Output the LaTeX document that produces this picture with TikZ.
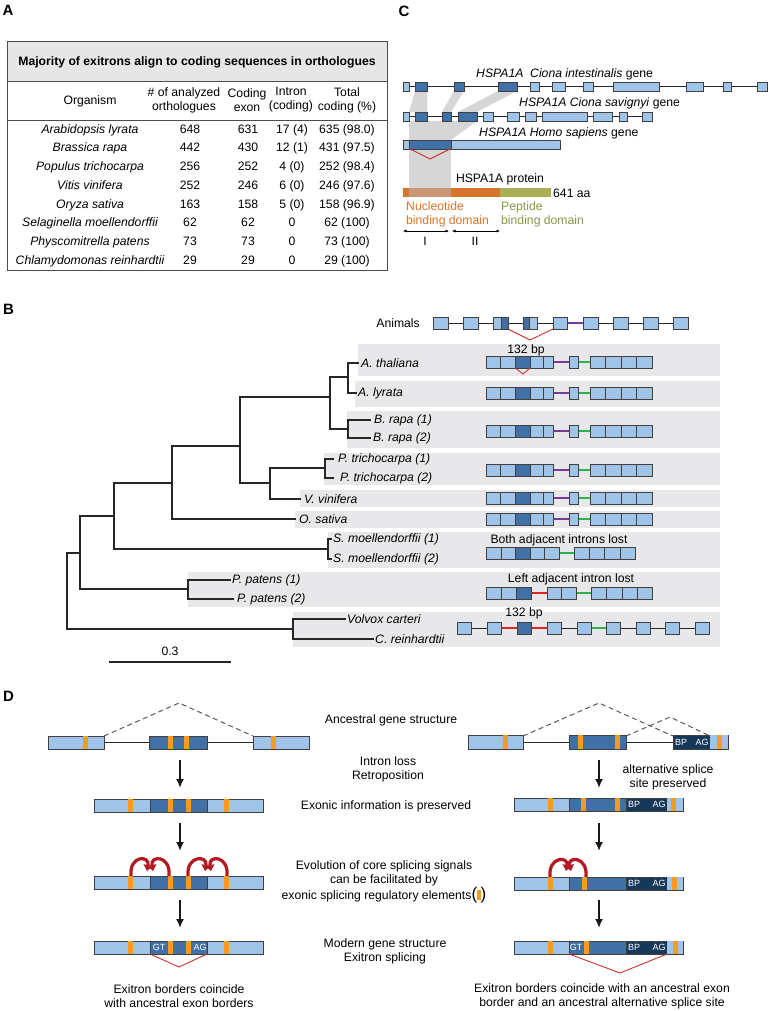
\documentclass[tikz,border=0pt]{standalone}
\usepackage{fontspec}
\setmainfont{Liberation Sans}
\usepackage{tikz}
\usetikzlibrary{arrows.meta,positioning}
\definecolor{exl}{RGB}{160,196,232}
\definecolor{exd}{RGB}{64,112,166}
\definecolor{exn}{RGB}{24,56,90}
\definecolor{esr}{RGB}{243,156,32}
\definecolor{bandgray}{RGB}{232,232,234}
\definecolor{hdrgray}{RGB}{230,230,230}
\definecolor{ipur}{RGB}{118,60,150}
\definecolor{igrn}{RGB}{40,178,80}
\definecolor{ired}{RGB}{226,36,36}
\definecolor{vred}{RGB}{200,50,45}
\definecolor{cred}{RGB}{178,26,32}
\definecolor{porange}{RGB}{214,116,44}
\definecolor{ptan}{RGB}{202,152,118}
\definecolor{polive}{RGB}{170,176,86}
\definecolor{tolive}{RGB}{138,150,70}
\definecolor{cgray}{RGB}{214,214,214}

\begin{document}
\begin{tikzpicture}[x=1pt, y=-1pt,
  font=\fontsize{12.2}{14}\selectfont,
  every node/.style={inner sep=0pt},
  lbl/.style={font=\fontsize{15}{15}\selectfont\bfseries},
  ex/.style={draw=black!75, line width=0.6pt, fill=exl},
  exd/.style={ex, fill=exd},
  exn/.style={ex, fill=exn},
  esr/.style={fill=esr},
  intr/.style={line width=0.7pt, black!85},
  pur/.style={line width=2.9pt, draw=ipur},
  grn/.style={line width=2.9pt, draw=igrn},
  rd/.style={line width=2.9pt, draw=ired},
  vee/.style={draw=vred, line width=0.9pt},
  tree/.style={line width=1.1pt, black!85, line cap=rect},
  band/.style={fill=bandgray},
  sp/.style={font=\fontsize{12.2}{14}\selectfont\itshape, anchor=west},
  darr/.style={-{Latex[length=9pt, width=8pt]}, line width=1.7pt, black!90},
  curl/.style={-{Triangle[length=6pt, width=9pt]}, line width=3.2pt, draw=cred},
  site/.style={font=\fontsize{9}{9}\selectfont, text=white},
  ancd/.style={dash pattern=on 5pt off 3.5pt, line width=1pt, black!65},
  dom/.style={{Latex[length=3.5pt, width=3pt]}-{Latex[length=3.5pt, width=3pt]}, line width=0.5pt}
]
\useasboundingbox (0,0) rectangle (768,1011);

\node[lbl] (la) at (8,10.5) {A};
\fill[hdrgray] (7,41) rectangle (387,81);
\draw[line width=0.8pt, black!70] (7,41) rectangle (387,270);
\draw[line width=0.7pt, black!70] (7,81) -- (387,81) (7,120) -- (387,120);
\node[font=\fontsize{12.2}{14}\selectfont\bfseries] (ttl) at (197,62) {Majority of exitrons align to coding sequences in orthologues};
\node (h1) at (90,101) {Organism};
\node[align=center] (h2) at (184,100) {\# of analyzed\\orthologues};
\node[align=center] (h3) at (247,100) {Coding\\exon};
\node[align=center] (h4) at (291,100) {Intron\\(coding)};
\node[align=center] (h5) at (347,100) {Total\\coding (\%)};
\foreach \org/\na/\ce/\ic/\tc [count=\i] in {
  Arabidopsis lyrata/648/631/17 (4)/635 (98.0),
  Brassica rapa/442/430/12 (1)/431 (97.5),
  Populus trichocarpa/256/252/4 (0)/252 (98.4),
  Vitis vinifera/252/246/6 (0)/246 (97.6),
  Oryza sativa/163/158/5 (0)/158 (96.9),
  Selaginella moellendorffii/62/62/0/62 (100),
  Physcomitrella patens/73/73/0/73 (100),
  Chlamydomonas reinhardtii/29/29/0/29 (100)}{
  \pgfmathsetmacro{\ry}{133.3+(\i-1)*18.7}
  \node[font=\fontsize{12.2}{14}\selectfont\itshape, anchor=base] (org\i) at (90,\ry) {\org};
  \node[anchor=base] (na\i) at (190,\ry) {\na};
  \node[anchor=base] (ce\i) at (248,\ry) {\ce};
  \node[anchor=base] (ic\i) at (292,\ry) {\ic};
  \node[anchor=base] (tc\i) at (347,\ry) {\tc};
}

\node[lbl] (lc) at (404,11) {C};
\fill[cgray] (415,91) -- (427,91) -- (427,112) -- (409,112) -- cycle;
\fill[cgray] (454,91) -- (464,91) -- (451,112) -- (442,112) -- cycle;
\fill[cgray] (498,91) -- (517,91) -- (477,112) -- (458,112) -- cycle;
\fill[cgray] (409,121) -- (477,121) -- (451,140) -- (409,140) -- cycle;
\fill[cgray] (409,149) -- (451,149) -- (451,188) -- (409,188) -- cycle;
\draw[intr] (403,86.5) -- (767,86.5);
\foreach \a/\b/\c in {403/409/exl,415/427/exd,454/464/exd,498/517/exd,530/539/exl,552/565/exl,583/593/exl,613/659/exl,686/703/exl,723/731/exl,757/767/exl}
  \draw[ex, fill=\c] (\a,82) rectangle (\b,91);
\draw[intr] (403,116.5) -- (652,116.5);
\foreach \a/\b/\c in {403/409/exl,415/427/exd,442/451/exd,458/477/exd,483/493/exl,507/519/exl,525/536/exl,542/587/exl,593/612/exl,619/627/exl,642/652/exl}
  \draw[ex, fill=\c] (\a,112) rectangle (\b,121);
\fill[exl] (403,140) rectangle (560,149);
\fill[exd] (409,140) rectangle (451,149);
\draw[ex, fill=none] (403,140) rectangle (560,149);
\draw[vee] (410,149) -- (430,159) -- (450,149);
\node[anchor=west] (g1) at (476,74) {\textit{HSPA1A\ \ Ciona intestinalis} gene};
\node[anchor=west] (g2) at (519,103) {\textit{HSPA1A Ciona savignyi} gene};
\node[anchor=west] (g3) at (479,133) {\textit{HSPA1A Homo sapiens} gene};
\fill[porange] (403,188) rectangle (409,197);
\fill[ptan] (409,188) rectangle (451,197);
\fill[porange] (451,188) rectangle (500,197);
\fill[polive] (500,188) rectangle (551,197);
\node (prot) at (500,179) {HSPA1A protein};
\node[anchor=west] (aa) at (553,193) {641 aa};
\node[anchor=west, align=left, text=porange] (nbd) at (406,214) {Nucleotide\\binding domain};
\node[anchor=west, align=left, text=tolive] (pbd) at (501,214) {Peptide\\binding domain};
\draw[dom] (403,231) -- (449,231);
\draw[dom] (452,231) -- (500,231);
\node (d1) at (425,241) {I};
\node (d2) at (475,241) {II};

\node[lbl] (lb) at (8.5,309) {B};
\fill[band] (358,344) rectangle (720,376);
\fill[band] (355,381) rectangle (720,407);
\fill[band] (347,411) rectangle (720,448);
\fill[band] (324,453) rectangle (720,485);
\fill[band] (300,490) rectangle (720,507);
\fill[band] (295,511) rectangle (720,528);
\fill[band] (328,532) rectangle (720,568);
\fill[band] (188,572) rectangle (720,607);
\fill[band] (293,612) rectangle (720,647);
\draw[tree] (358,363) -- (348,363) -- (348,393) -- (356,393);
\draw[tree] (370,420) -- (348,420) -- (348,438) -- (370,438);
\draw[tree] (348,377) -- (330,377) -- (330,429) -- (348,429);
\draw[tree] (330,397) -- (240,397) -- (240,483) -- (270,483);
\draw[tree] (333,459) -- (325,459) -- (325,478) -- (333,478);
\draw[tree] (325,468) -- (270,468) -- (270,499) -- (300,499);
\draw[tree] (240,446) -- (172,446) -- (172,519) -- (295,519);
\draw[tree] (172,483) -- (114,483) -- (114,549) -- (328,549);
\draw[tree] (331,539) -- (328,539) -- (328,559) -- (331,559);
\draw[tree] (114,516) -- (80,516) -- (80,589) -- (188,589);
\draw[tree] (230,580) -- (188,580) -- (188,599) -- (233,599);
\draw[tree] (80,553) -- (67,553) -- (67,629) -- (293,629);
\draw[tree] (345,619) -- (293,619) -- (293,639) -- (373,639);
\draw[tree] (110,662) -- (230,662);
\node (scl) at (170,651) {0.3};
\node[sp] (ath) at (361,363) {A. thaliana};
\node[sp] (aly) at (358,393) {A. lyrata};
\node[sp] (br1) at (374,420) {B. rapa (1)};
\node[sp] (br2) at (373,438) {B. rapa (2)};
\node[sp] (pt1) at (338,459) {P. trichocarpa (1)};
\node[sp] (pt2) at (340,478) {P. trichocarpa (2)};
\node[sp] (vvi) at (304,499) {V. vinifera};
\node[sp] (osa) at (299,519) {O. sativa};
\node[sp] (sm1) at (333,539) {S. moellendorffii (1)};
\node[sp] (sm2) at (333,559) {S. moellendorffii (2)};
\node[sp] (pp1) at (232,580) {P. patens (1)};
\node[sp] (pp2) at (237,599) {P. patens (2)};
\node[sp] (vca) at (347,619) {Volvox carteri};
\node[sp] (cre) at (375,639) {C. reinhardtii};

\node[anchor=east] (anim) at (420,323) {Animals};
\draw[intr] (448,323) -- (673,323);
\draw[pur] (567,323) -- (583,323);
\draw[vee] (508,329) -- (530,340) -- (553,329);
\foreach \a/\b in {433/448,463/478,493/508,529/537,553/567,583/598,613/628,643/658,673/688}
  \draw[ex] (\a,317) rectangle (\b,329);
\draw[exd] (501,317) rectangle (508,329);
\draw[exd] (523,317) rectangle (529,329);
\foreach \y in {362,393,431,470,498,519}{
  \draw[pur] (553,\y) -- (569,\y);
  \draw[grn] (578,\y) -- (590,\y);
  \foreach \a/\b in {486/500,500/515,530/543,543/553,569/578,590/605,605/621,621/636,636/652}
    \draw[ex] (\a,\y-6) rectangle (\b,\y+6);
  \draw[exd] (515,\y-6) rectangle (530,\y+6);
}
\node (bp1) at (526,350) {132 bp};
\draw[vee] (515,368) -- (523,374) -- (530,368);
\node (sml) at (559,540) {Both adjacent introns lost};
\draw[grn] (559,553) -- (574,553);
\foreach \a/\b in {486/501,501/515,530/544,544/559,574/589,589/604,604/620,620/635}
  \draw[ex] (\a,547) rectangle (\b,559);
\draw[exd] (515,547) rectangle (530,559);
\node (ppl) at (571,579) {Left adjacent intron lost};
\draw[rd] (531,593) -- (547,593);
\draw[grn] (576,593) -- (591,593);
\foreach \a/\b in {486/501,501/516,547/561,561/576,591/606,606/622,622/637,637/652}
  \draw[ex] (\a,587) rectangle (\b,599);
\draw[exd] (516,587) rectangle (531,599);
\node (bp2) at (524,613) {132 bp};
\draw[intr] (471,628) -- (695,628);
\draw[rd] (501,628) -- (517,628) (531,628) -- (547,628);
\draw[grn] (591,628) -- (606,628);
\foreach \a in {457,487,547,577,606,636,665,695}
  \draw[ex] (\a,622) rectangle (\a+14,634);
\draw[exd] (517,622) rectangle (531,634);

\node[lbl] (ld) at (8.5,696) {D};
\draw[ancd] (104,736) -- (179,703) -- (253,736);
\draw[intr] (104,742.5) -- (149,742.5) (207,742.5) -- (253,742.5);
\draw[ex] (48,736) rectangle (104,749);
\draw[exd] (149,736) rectangle (207,749);
\draw[ex] (253,736) rectangle (309,749);
\foreach \a in {83,168,184,271}
  \fill[esr] (\a,736.4) rectangle (\a+5,748.6);
\foreach \y in {799,876,941}{
  \draw[ex] (94,\y) rectangle (150,\y+13);
  \draw[exd] (150,\y) rectangle (207,\y+13);
  \draw[ex] (207,\y) rectangle (263,\y+13);
  \foreach \a in {128,168,186,224}
    \fill[esr] (\a,\y+0.4) rectangle (\a+4.5,\y+12.6);
}
\node[site] (gtl) at (159,947.5) {GT};
\node[site] (agl) at (200,947.5) {AG};
\draw[vee] (150,954) -- (179,967) -- (207,954);
\draw[curl] (131,876) .. controls (129,855) and (150,855) .. (147,871);
\draw[curl] (169,876) .. controls (171,855) and (150,855) .. (153,871);
\draw[curl] (188,876) .. controls (186,855) and (208,855) .. (205,871);
\draw[curl] (227,876) .. controls (229,855) and (208,855) .. (211,871);

\draw[ancd] (523,736) -- (599,703) -- (673,736);
\draw[ancd] (626,736) -- (670,717) -- (710,736);
\draw[intr] (523,742) -- (569,742) (626,742) -- (673,742);
\draw[ex] (468,735) rectangle (523,749);
\draw[exd] (569,735) rectangle (626,749);
\draw[exn] (673,735) rectangle (728,749);
\fill[exl] (710,735.3) rectangle (727.7,748.7);
\foreach \a in {503,578,615,717}
  \fill[esr] (\a,735.4) rectangle (\a+4.5,748.6);
\node[site] (bpr1) at (681,742) {BP};
\node[site] (agr1) at (702,742) {AG};
\foreach \y/\i in {798/2,877/3,941/4}{
  \draw[ex] (514,\y) rectangle (569,\y+13);
  \draw[exd] (569,\y) rectangle (626,\y+13);
  \draw[exn] (626,\y) rectangle (683,\y+13);
  \fill[exl] (667,\y+0.3) rectangle (682.7,\y+12.7);
  \node[site] (bpr\i) at (634,\y+6.5) {BP};
  \node[site] (agr\i) at (659,\y+6.5) {AG};
}
\foreach \a in {548,581,615,671}
  \fill[esr] (\a,798.4) rectangle (\a+4.5,810.6);
\foreach \a in {548,582,672}
  \fill[esr] (\a,877.4) rectangle (\a+4.5,889.6);
\foreach \a in {548,584,673}
  \fill[esr] (\a,941.4) rectangle (\a+4.5,953.6);
\node[site] (gtr) at (576,947.5) {GT};
\draw[vee] (569,954) -- (620,973) -- (667,954);
\draw[curl] (550,877) .. controls (548,856) and (569,856) .. (566,871);
\draw[curl] (586,877) .. controls (588,856) and (567,856) .. (571,871);

\foreach \s/\x in {l/180,r/599}
  \foreach \i/\ya in {1/760,2/823,3/900}{
    \coordinate (\s\i t) at (\x,\ya);
    \coordinate (\s\i b) at (\x,\ya+28);
    \draw[darr] (\s\i t) -- (\s\i b);
  }

\node (anc) at (391,720) {Ancestral gene structure};
\node[align=center] (loss) at (388,769) {Intron loss\\Retroposition};
\node (exo) at (386,806) {Exonic information is preserved};
\node[align=center] (evo) at (384,882) {Evolution of core splicing signals\\can be facilitated by\\exonic splicing regulatory elements{\fontsize{17}{14}\selectfont(}\textcolor{esr}{\rule[-0.5pt]{3.5pt}{10pt}}{\fontsize{17}{14}\selectfont)}};
\node[align=center] (mod) at (385,951) {Modern gene structure\\Exitron splicing};
\node[align=center] (alt) at (668,777) {alternative splice\\site preserved};
\node[align=center] (bl) at (179,996) {Exitron borders coincide\\with ancestral exon borders};
\node[align=center] (br) at (602,996) {Exitron borders coincide with an ancestral exon\\border and an ancestral alternative splice site};
\end{tikzpicture}
\end{document}
